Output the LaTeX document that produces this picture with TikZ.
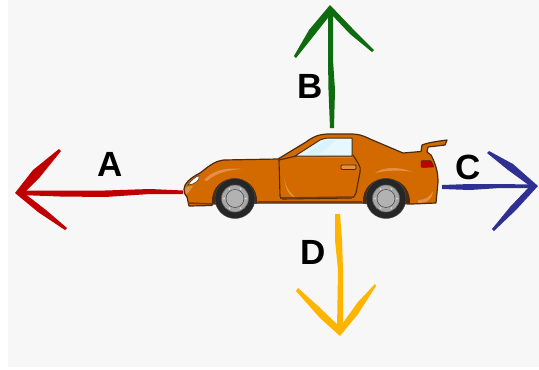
\documentclass[tikz,border=0pt]{standalone}
\usepackage{fontspec}
\setmainfont{Liberation Sans}
\definecolor{bgc}{HTML}{F7F7F7}
\definecolor{carc}{HTML}{D26A00}
\definecolor{carl}{HTML}{E58F45}
\definecolor{card}{HTML}{4A2A10}
\definecolor{redc}{HTML}{C00000}
\definecolor{greenc}{HTML}{0F6B0F}
\definecolor{bluec}{HTML}{2E3192}
\definecolor{yelc}{HTML}{FFB400}
\tikzset{
 lab/.style={font=\bfseries\fontsize{35}{35}\selectfont,text=black,inner sep=0pt},
 carbody/.style={fill=carc,draw=card,line width=1.2pt,line join=round},
 carline/.style={draw=card,line width=1.1pt,line join=round},
 tyre/.style={fill=black!85,draw=black!70},
 hub/.style={fill=gray!70,draw=black!60,line width=.6pt},
 glint/.style={fill=carl,draw=none},
}
\begin{document}
\begin{tikzpicture}[x=1pt,y=-1pt]
\useasboundingbox (0,0) rectangle (539,370);
\fill[white] (0,0) rectangle (539,370);
\fill[bgc] (8,0) rectangle (539,367);
% red arrow A
\fill[redc] (183,190.5) -- (150,189) -- (105,190.5) -- (60,190.5) -- (20,190.5) -- (20,195) -- (60,196.5) -- (105,197) -- (150,194) -- (183,194) -- cycle;
\fill[redc] (15,193) -- (33,170) -- (59,149) -- (61,151) -- (40,177) -- (24,193) -- (46,210) -- (67,228) -- (65,230) -- (38,212) -- cycle;
% green arrow B
\fill[greenc] (328,10) -- (328,60) -- (328.5,90) -- (330,128) -- (334,128) -- (335,90) -- (333,60) -- (333,12) -- cycle;
\fill[greenc] (330,5) -- (352,28) -- (374,50) -- (372,52) -- (350,34) -- (331,14) -- (312,38) -- (296,58) -- (294,56) -- (309,30) -- cycle;
% yellow arrow D
\fill[yelc] (335,214) -- (335,240) -- (338,270) -- (337,330) -- (343,330) -- (343,270) -- (342,240) -- (340,214) -- cycle;
\fill[yelc] (340,336) -- (320,318) -- (296,291) -- (298,288) -- (318,306) -- (340,327) -- (358,302) -- (375,284) -- (376,286) -- (358,314) -- cycle;
% blue arrow C
\fill[bluec] (442,185) -- (470,184) -- (500,184) -- (530,184.5) -- (530,188) -- (500,188) -- (470,190) -- (442,189) -- cycle;
\fill[bluec] (538,186) -- (516,210) -- (494,231) -- (492,229) -- (510,207) -- (530,186) -- (508,170) -- (487,153) -- (489,151) -- (513,164) -- cycle;
% car
\path[carbody] (184,189) .. controls (184,184) and (190,178) .. (200,173) .. controls (208,167) and (214,161) .. (224,160)
 -- (278,159) -- (306,142) .. controls (314,136) and (320,134) .. (330,134) -- (350,134) .. controls (358,134) and (362,135) .. (370,139)
 -- (403,153) -- (421,151.5) -- (422,145) .. controls (430,142) and (440,141) .. (447,140) -- (445,145) -- (428,147) -- (427,152) -- (431,155) .. controls (436,165) and (438,172) .. (438,182)
 -- (436,203) -- (412,204) -- (363,203) -- (257,203) -- (212,204) -- (212,205.5) -- (189,206) -- (187,197) .. controls (184,194) and (184,191) .. (184,189) -- cycle;
% highlights
\path[glint] (204,180) .. controls (212,171) and (225,167) .. (242,169) .. controls (228,170) and (216,173) .. (207,181) -- cycle;
\path[glint] (375,173) .. controls (385,166) and (400,167) .. (413,172) .. controls (402,170) and (388,170) .. (375,173) -- cycle;
\path[glint] (284,176) .. controls (285,185) and (288,191) .. (296,198) .. controls (290,197) and (285,190) .. (284,176) -- cycle;
\path[glint] (418,200) .. controls (425,200) and (430,197) .. (433,191) .. controls (433,198) and (428,203) .. (418,203) -- cycle;
\path[glint] (185,189) .. controls (187,186) and (190,186) .. (193,186) .. controls (190,190) and (188,194) .. (186,194) -- cycle;
% door
\draw[carline] (296,156) -- (279,160) -- (280,196) .. controls (280,198) and (281,199) .. (283,199) -- (351,198) .. controls (353,198) and (355,196) .. (356,193) -- (360,172) .. controls (361,169) and (360,167) .. (358,163) -- (353,155);
% window
\path[carline,fill=cyan!10,line width=1pt] (295,156) -- (320,140) .. controls (323,138.5) and (326,138) .. (330,138) -- (352,138) -- (352,156) -- cycle;
\fill[white!85!cyan] (305,155) -- (326,140) -- (336,140) -- (318,155) -- cycle;
\draw[carl,line width=.5pt] (297,158) -- (352,157.5);
\path[fill=carl,draw=card,line width=.9pt,rounded corners=1pt] (341,165) rectangle (356,169.5);
\path[fill=red!75!black,draw=card,line width=.5pt,rounded corners=1pt] (421,160.5) -- (431,160.5) -- (434,167) -- (421,167.5) -- cycle;
\path[fill=white,draw=card,line width=.5pt] (188,185) .. controls (192,179) and (196,177) .. (199,175.5) .. controls (200,180) and (196,184) .. (188,185) -- cycle;
\draw[card!70!carc,line width=1.5pt] (188,203) -- (212,204);
\draw[card!70!carc,line width=1.5pt] (258,202) -- (362,202);
\draw[card!70!carc,line width=1.5pt] (281,198) -- (354,197);
% wheel arches
\fill[card] (212,203.5) .. controls (210,170) and (259,170) .. (257,203.5) -- cycle;
\fill[card] (363,203.5) .. controls (361,170) and (411,170) .. (410,203.5) -- cycle;
\foreach \nm/\cx in {fw/235,rw/386}{
 \path[tyre] (\cx,198.5) circle (20);
 \path[hub] (\cx,198.5) circle (13.5);
 \path[fill=gray!60,draw=gray!40!black,line width=.4pt] (\cx,198.5) circle (9);
 \foreach \a in {0,60,...,300}{\fill[gray!30] (\cx,198.5) ++(\a:11) circle (1);}
}
% labels
\node[lab] (la) at (110,164) {A};
\node[lab] (lb) at (310,86) {B};
\node[lab] (lc) at (468,167) {C};
\node[lab] (ld) at (313,252) {D};
\end{tikzpicture}
\end{document}
